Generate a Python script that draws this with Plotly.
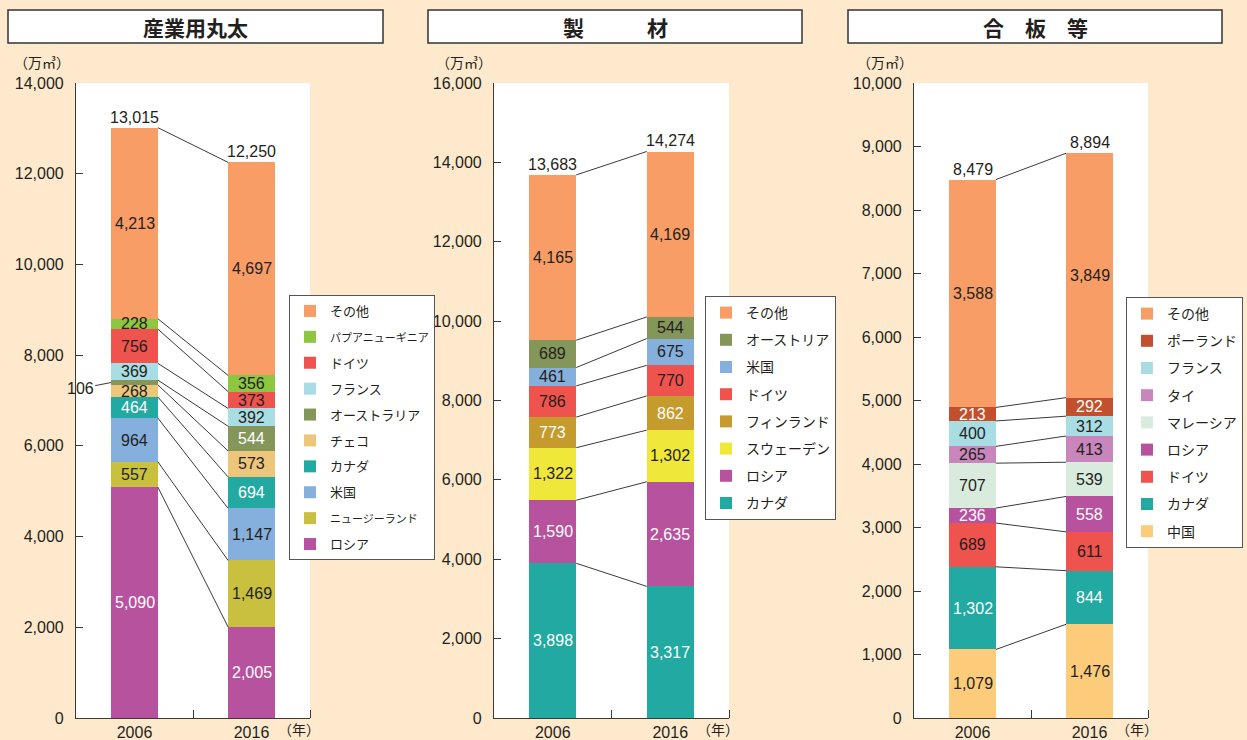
import plotly.graph_objects as go

# ---------------- data ----------------
years = ["2006", "2016"]

p1_title = "産業用丸太"
p1_names = ["ロシア", "ニュージーランド", "米国", "カナダ", "チェコ", "オーストラリア",
            "フランス", "ドイツ", "パプアニューギニア", "その他"]
p1_2006 = [5090, 557, 964, 464, 268, 106, 369, 756, 228, 4213]
p1_2016 = [2005, 1469, 1147, 694, 573, 544, 392, 373, 356, 4697]
p1_totals = [13015, 12250]
p1_ymax = 14000
p1_dtick = 2000

p2_title = "製　　　材"
p2_names = ["カナダ", "ロシア", "スウェーデン", "フィンランド", "ドイツ", "米国",
            "オーストリア", "その他"]
p2_2006 = [3898, 1590, 1322, 773, 786, 461, 689, 4165]
p2_2016 = [3317, 2635, 1302, 862, 770, 675, 544, 4169]
p2_totals = [13683, 14274]
p2_ymax = 16000
p2_dtick = 2000

p3_title = "合　板　等"
p3_names = ["中国", "カナダ", "ドイツ", "ロシア", "マレーシア", "タイ", "フランス",
            "ポーランド", "その他"]
p3_2006 = [1079, 1302, 689, 236, 707, 265, 400, 213, 3588]
p3_2016 = [1476, 844, 611, 558, 539, 413, 312, 292, 3849]
p3_totals = [8479, 8894]
p3_ymax = 10000
p3_dtick = 1000

unit_label = "（万㎥）"
year_unit = "（年）"

# ---------------- styles ----------------
COLORS = {
    "その他": "#F79D65", "パプアニューギニア": "#8DC641", "ドイツ": "#EF534E",
    "フランス": "#A9DDE4", "オーストラリア": "#84965A", "オーストリア": "#84965A",
    "チェコ": "#EDC67B", "カナダ": "#21A9A2", "米国": "#85AFDD",
    "ニュージーランド": "#C9C03F", "ロシア": "#B7529E", "フィンランド": "#C59B2D",
    "スウェーデン": "#EFE83B", "ポーランド": "#C24F2E", "タイ": "#C986BC",
    "マレーシア": "#D8EBDC", "中国": "#FDCC7B",
}
WHITE_TEXT = {"カナダ", "ロシア", "オーストラリア", "フィンランド", "ポーランド"}
SMALL_LEGEND = {"パプアニューギニア", "ニュージーランド"}
DARK = "#231F20"
AXIS = "#3A3A3A"
BG = "#FEE9CC"
FONT = "Liberation Sans, Arial, Noto Sans CJK JP, sans-serif"
JFONT = "Noto Sans CJK JP, sans-serif"

W, H = 1247, 740
PLOT_TOP, PLOT_BOTTOM = 83, 718

panels = [
    dict(title=p1_title, names=p1_names, v=[p1_2006, p1_2016], totals=p1_totals,
         ymax=p1_ymax, dtick=p1_dtick, xdom=(76, 310), box=(8, 383),
         legend=(289, 295), unit_x=42, legend_font=13),
    dict(title=p2_title, names=p2_names, v=[p2_2006, p2_2016], totals=p2_totals,
         ymax=p2_ymax, dtick=p2_dtick, xdom=(494, 729), box=(428, 802),
         legend=(705, 296), unit_x=464, legend_font=14),
    dict(title=p3_title, names=p3_names, v=[p3_2006, p3_2016], totals=p3_totals,
         ymax=p3_ymax, dtick=p3_dtick, xdom=(914, 1148), box=(848, 1222),
         legend=(1126, 297), unit_x=885, legend_font=14),
]

BAR_W = 0.4
fig = go.Figure()
annotations = []
shapes = []
layout_axes = {}

for k, p in enumerate(panels):
    sfx = "" if k == 0 else str(k + 1)
    xa, ya = "x" + sfx, "y" + sfx
    leg = "legend" + sfx
    names = p["names"]
    n = len(names)
    cum = [[0] * n, [0] * n]
    for i in range(2):
        s = 0
        for j in range(n):
            s += p["v"][i][j]
            cum[i][j] = s

    for j, name in enumerate(names):
        disp = name
        if name in SMALL_LEGEND:
            disp = '<span style="font-size:11px">%s</span>' % name
        fig.add_trace(go.Bar(
            x=[0, 1], y=[p["v"][0][j], p["v"][1][j]], name=disp,
            marker=dict(color=COLORS[name], line=dict(width=0)), width=BAR_W,
            xaxis=xa, yaxis=ya, legend=leg, legendgroup="g%d_%d" % (k, j),
            legendrank=(n - j) * 10,
            hovertemplate=name + ": %{y:,}<extra></extra>",
        ))
        # segment labels
        for i in range(2):
            val = p["v"][i][j]
            mid = cum[i][j] - val / 2
            if k == 0 and name == "オーストラリア" and i == 0:
                annotations.append(dict(
                    x=-BAR_W / 2, y=mid, xref=xa, yref=ya, text=f"{val:,}",
                    showarrow=True, arrowhead=0, arrowwidth=1, arrowcolor=AXIS,
                    ax=-31, ay=6, standoff=0,
                    font=dict(size=16, color=DARK, family=FONT)))
                continue
            annotations.append(dict(
                x=i, y=mid, xref=xa, yref=ya, text=f"{val:,}", showarrow=False,
                xanchor="center", yanchor="middle",
                font=dict(size=16, family=FONT,
                          color="white" if name in WHITE_TEXT else DARK)))
        # connecting line between segment tops
        fig.add_trace(go.Scatter(
            x=[BAR_W / 2, 1 - BAR_W / 2], y=[cum[0][j], cum[1][j]], mode="lines",
            line=dict(color=AXIS, width=1), showlegend=False, hoverinfo="skip",
            xaxis=xa, yaxis=ya))

    # totals
    for i in range(2):
        annotations.append(dict(
            x=i, y=cum[i][-1], xref=xa, yref=ya, text=f"{p['totals'][i]:,}",
            showarrow=False, xanchor="center", yanchor="bottom", yshift=0,
            font=dict(size=16, color=DARK, family=FONT)))

    x0, x1 = p["xdom"]
    layout_axes["xaxis" + sfx] = dict(
        domain=[x0 / W, x1 / W], range=[-0.5, 1.5], tickmode="array",
        tickvals=[0, 1], ticktext=years, ticks="", showline=True, linecolor=AXIS,
        linewidth=1.2, showgrid=False, zeroline=False, anchor=ya, fixedrange=True,
        automargin=False,
        tickfont=dict(size=16, color=DARK, family=FONT),
        minor=dict(tickmode="array", tickvals=[0.5, 1.5], ticks="inside",
                   ticklen=8, tickcolor=AXIS, tickwidth=1.2, showgrid=False))
    layout_axes["yaxis" + sfx] = dict(
        domain=[1 - PLOT_BOTTOM / H, 1 - PLOT_TOP / H], range=[0, p["ymax"]],
        dtick=p["dtick"], tick0=0, tickformat=",", ticks="inside", ticklen=7,
        tickcolor=AXIS, tickwidth=1.2, showline=True, linecolor=AXIS, linewidth=1.2,
        showgrid=False, zeroline=False, anchor=xa, fixedrange=True,
        automargin=False,
        ticklabelstandoff=8, tickfont=dict(size=16, color=DARK, family=FONT))

    lx, ly = p["legend"]
    layout_axes[leg] = dict(
        x=lx / W, y=1 - ly / H, xanchor="left", yanchor="top", xref="paper",
        yref="paper", bgcolor="white", bordercolor="#555555", borderwidth=1,
        traceorder="grouped", tracegroupgap=6,
        font=dict(size=p["legend_font"], color=DARK, family=JFONT))

    # title box
    b0, b1 = p["box"]
    shapes.append(dict(type="rect", xref="paper", yref="paper",
                       x0=b0 / W, x1=b1 / W, y0=1 - 43 / H, y1=1 - 10 / H,
                       fillcolor="white", line=dict(color="#333333", width=1.5)))
    annotations.append(dict(x=(b0 + b1) / 2 / W, y=1 - 26.5 / H, xref="paper",
                            yref="paper", text="<b>" + p["title"] + "</b>",
                            showarrow=False, xanchor="center", yanchor="middle",
                            font=dict(size=21, color=DARK, family=JFONT)))
    # unit label
    annotations.append(dict(x=p["unit_x"] / W, y=1 - 62 / H, xref="paper",
                            yref="paper", text=unit_label, showarrow=False,
                            xanchor="center", yanchor="middle",
                            font=dict(size=14, color=DARK, family=JFONT)))
    # year unit
    annotations.append(dict(x=1.41, y=1 - 739.5 / H, xref=xa, yref="paper",
                            text=year_unit, showarrow=False, borderpad=0,
                            xanchor="center", yanchor="bottom",
                            font=dict(size=14, color=DARK, family=JFONT)))

fig.update_layout(
    width=W, height=H, margin=dict(l=0, r=0, t=0, b=0, autoexpand=False),
    paper_bgcolor=BG, plot_bgcolor="white", barmode="stack",
    annotations=annotations, shapes=shapes, **layout_axes,
)

fig.write_html(
    "out.html",
    config={"displayModeBar": False},
    post_script=(
        "document.documentElement.style.margin='0';"
        "document.body.style.margin='0';"
        "document.body.style.overflow='hidden';"
        "var gd=document.getElementById('{plot_id}');"
        "gd.style.position='fixed';gd.style.top='0px';gd.style.left='0px';"
    ),
)
